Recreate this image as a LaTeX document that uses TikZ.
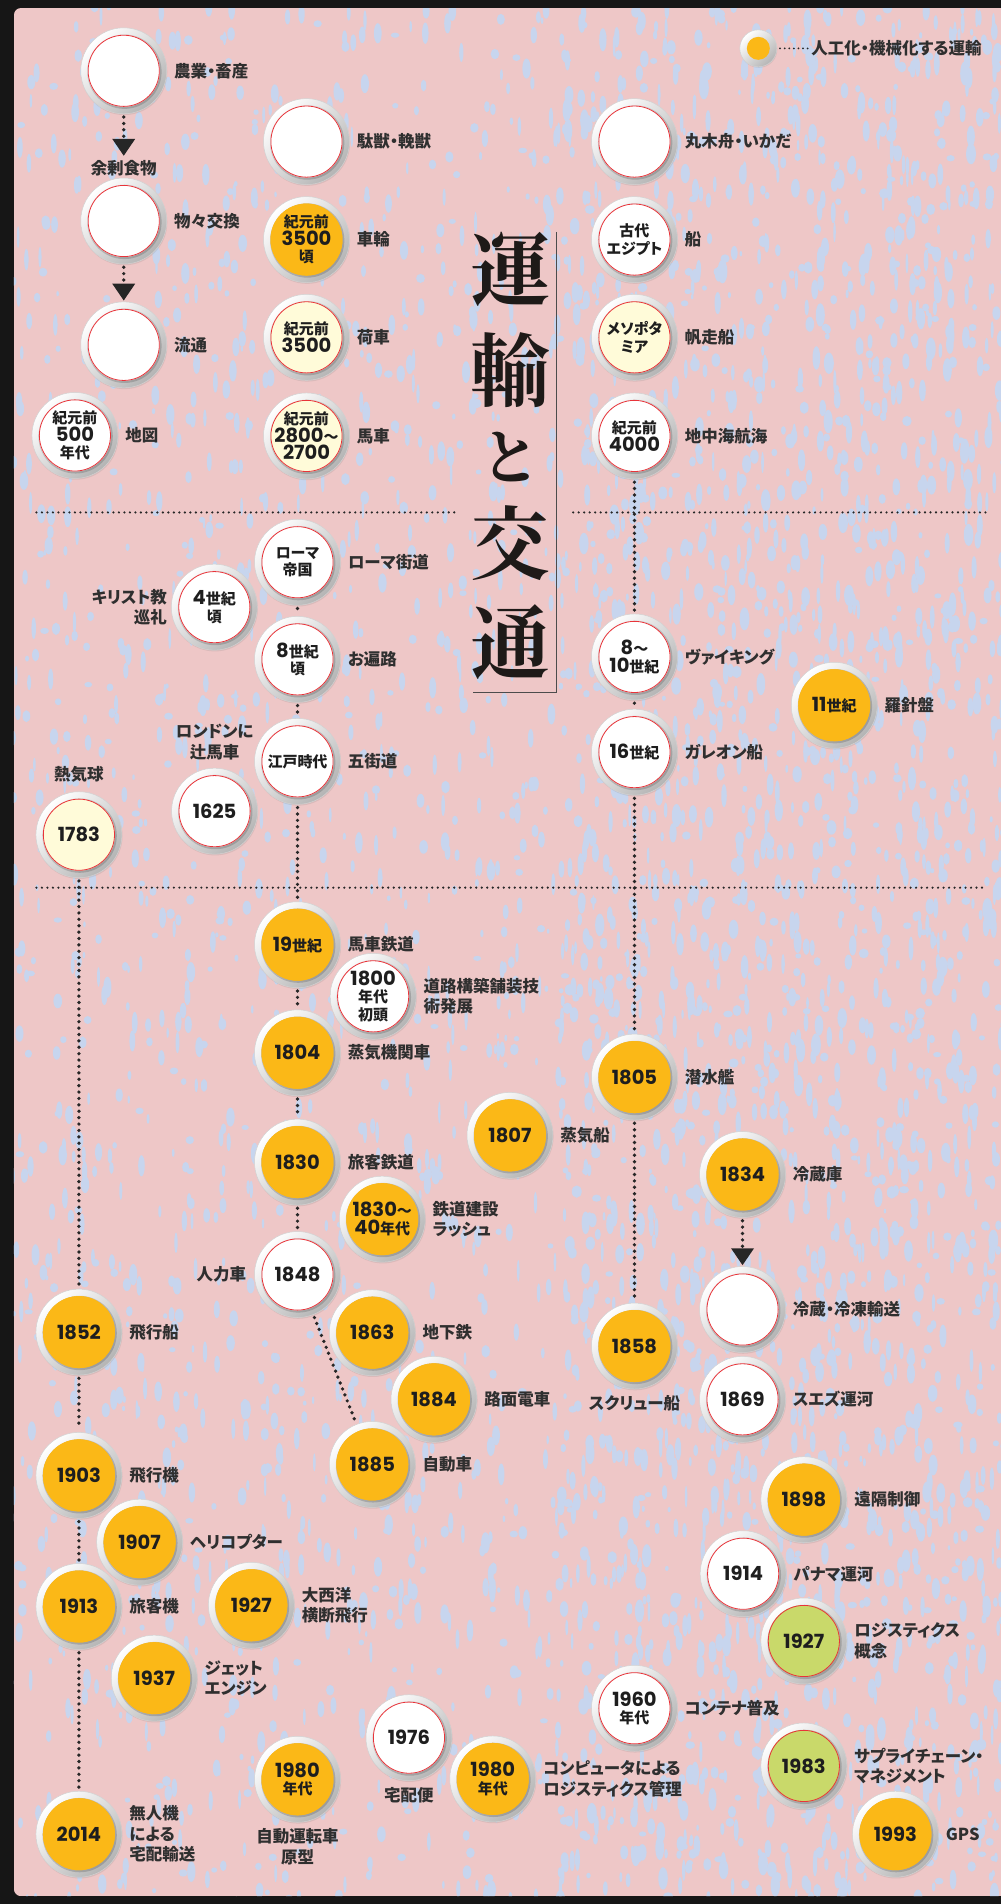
\documentclass[tikz,border=0pt]{standalone}
\usepackage{fontspec}
\usetikzlibrary{positioning,shadows,arrows.meta}
\newfontfamily\jp{Noto Sans CJK JP}[RawFeature=+palt]
\newfontfamily\jpt{Noto Serif CJK JP}
\newfontfamily\num{Poppins}
\definecolor{bgblack}{HTML}{161616}
\definecolor{bgpink}{HTML}{EEC7C7}
\definecolor{bgblue}{HTML}{C7D5EE}
\definecolor{yel}{HTML}{FBB817}
\definecolor{cream}{HTML}{FFFBD9}
\definecolor{grn}{HTML}{C9D96A}
\definecolor{redln}{HTML}{E8343A}
\definecolor{ringdk}{HTML}{B4B4B4}
\definecolor{ringln}{HTML}{D2D2D2}
\definecolor{labc}{HTML}{2F2F2F}
\definecolor{numc}{HTML}{1E1E1E}
\definecolor{dotc}{HTML}{262626}
\definecolor{ttlc}{HTML}{1E1A18}
\newcommand\myyr[1]{{\num\bfseries\fontsize{19.5}{17.5}\selectfont #1}}
\tikzset{
  ring/.style 2 args={circle, minimum size=86pt, inner sep=0pt, align=center, text=numc,
    font=\jp\bfseries\fontsize{15}{17.5}\selectfont,
    drop shadow={opacity=0.18, shadow xshift=0.6pt, shadow yshift=-1.3pt},
    top color=white, bottom color=ringdk, shading angle=45, draw=ringln, line width=0.5pt,
    path picture={
      \fill[black, opacity=0.16] ([xshift=0.7pt,yshift=-0.9pt]path picture bounding box.center) circle (37.2pt);
      \fill[#1] (path picture bounding box.center) circle (36pt);
      \draw[#2, line width=0.8pt] (path picture bounding box.center) circle (35.6pt);
    }},
  evw/.style={ring={white}{redln}},
  evy/.style={ring={yel}{yel}},
  evc/.style={ring={cream}{redln}},
  evg/.style={ring={grn}{redln}},
  legring/.style={circle, minimum size=37pt, inner sep=0pt,
    drop shadow={opacity=0.18, shadow xshift=0.5pt, shadow yshift=-1pt},
    top color=white, bottom color=ringdk, shading angle=45, draw=ringln, line width=0.5pt,
    path picture={\fill[yel] (path picture bounding box.center) circle (11.5pt);}},
  lab/.style={font=\jp\bfseries\fontsize{16.5}{20.5}\selectfont, text=labc, inner sep=0pt, align=left},
  ttl/.style={font=\jpt\bfseries\fontsize{80}{80}\selectfont, text=ttlc, inner sep=0pt},
  conn/.style={draw=dotc, line width=3.7pt, line cap=round, dash pattern=on 0pt off 6.4pt, shorten <=3pt, shorten >=3pt},
  arr/.style={conn, -{Triangle[width=22pt,length=17pt]}},
  sepl/.style={draw=dotc, line width=2.4pt, line cap=round, dash pattern=on 0pt off 5.5pt},
  legl/.style={draw=dotc, line width=2pt, line cap=round, dash pattern=on 0pt off 4.6pt, shorten <=3pt, shorten >=3pt},
  ttlline/.style={draw=black!70, line width=1pt}
}
\begin{document}
\begin{tikzpicture}[x=1.2148pt, y=-1.2148pt]
\useasboundingbox (0,0) rectangle (824,1568);
\fill[bgblack] (0,0) rectangle (824,1568);
% panel with texture
\begin{scope}
\clip[rounded corners=7pt] (11.5,6.6) rectangle (840,1561.5);
\fill[bgpink] (11.5,6.6) rectangle (840,1561.5);
\pgfmathsetseed{42}
\foreach \i in {1,...,3000}{
  \pgfmathsetmacro\bx{10+rnd*820}
  \pgfmathsetmacro\by{5+rnd*1560}
  \pgfmathsetmacro\rx{1.2+rnd*3.2}
  \pgfmathsetmacro\ry{2.5+rnd*8.5}
  \fill[bgblue] (\bx,\by) ellipse [x radius=\rx pt, y radius=\ry pt];
}
\foreach \i in {1,...,1500}{
  \pgfmathsetmacro\bx{460+rnd*370}
  \pgfmathsetmacro\by{5+rnd*1560}
  \pgfmathsetmacro\rx{1.5+rnd*3.5}
  \pgfmathsetmacro\ry{3+rnd*9}
  \fill[bgblue] (\bx,\by) ellipse [x radius=\rx pt, y radius=\ry pt];
}
\end{scope}

% separators
\coordinate (s1a) at (30,422); \coordinate (s1b) at (377,422);
\coordinate (s2a) at (472,422); \coordinate (s2b) at (813,422);
\coordinate (s3a) at (30,731); \coordinate (s3b) at (813,731);
\draw[sepl] (s1a) -- (s1b);
\draw[sepl] (s2a) -- (s2b);
\draw[sepl] (s3a) -- (s3b);

% title
\node[ttl] (t1) at (420,222) {運};
\node[ttl] (t2) at (420,305) {輸};
\node[ttl, font=\jpt\bfseries\fontsize{60}{60}\selectfont] (t3) at (420,376) {と};
\node[ttl] (t4) at (420,447) {交};
\node[ttl] (t5) at (420,529) {通};
\coordinate (tl1) at (458.5,191); \coordinate (tl2) at (458.5,570); \coordinate (tl3) at (389.5,570);
\draw[ttlline] (tl1) -- (tl2) -- (tl3);

% legend
\node[legring] (lg) at (624.5,39.8) {};
\node[lab, anchor=west] (lgt) at (668,40) {人工化・機械化する運輸};
\draw[legl] (lg) -- (lgt);

% ---- top section
\node[evw] (nA1) at (101.9,58.3) {};
\node[lab, right=7pt of nA1] {農業・畜産};
\node[lab, anchor=center] (yojo) at (101.9,138.3) {余剰食物};
\node[evw] (nA2) at (101.9,182) {};
\node[lab, right=7pt of nA2] {物々交換};
\node[evw] (nA3) at (101.9,284) {};
\node[lab, right=7pt of nA3] {流通};
\node[evw] (nA4) at (61.7,358.6) {紀元前\\\myyr{500}\\年代};
\node[lab, right=7pt of nA4] {地図};

\node[evw] (nB1) at (252.4,116.6) {};
\node[lab, right=7pt of nB1] {駄獣・輓獣};
\node[evy] (nB2) at (252.4,197.3) {紀元前\\\myyr{3500}\\頃};
\node[lab, right=7pt of nB2] {車輪};
\node[evc] (nB3) at (252.4,277.8) {紀元前\\\myyr{3500}};
\node[lab, right=7pt of nB3] {荷車};
\node[evc] (nB4) at (252.4,359) {紀元前\\\myyr{2800}〜\\\myyr{2700}};
\node[lab, right=7pt of nB4] {馬車};

\node[evw] (nC1) at (522.5,116.6) {};
\node[lab, right=7pt of nC1] {丸木舟・いかだ};
\node[evw] (nC2) at (522.5,197.3) {古代\\エジプト};
\node[lab, right=7pt of nC2] {船};
\node[evc] (nC3) at (522.5,277.8) {メソポタ\\ミア};
\node[lab, right=7pt of nC3] {帆走船};
\node[evw] (nC4) at (522.5,359) {紀元前\\\myyr{4000}};
\node[lab, right=7pt of nC4] {地中海航海};

\draw[arr, shorten >=4pt] (nA1) -- (yojo);
\draw[arr, shorten >=1pt] (nA2) -- (nA3);

% ---- middle section
\node[evw] (nB5) at (245,463) {ローマ\\帝国};
\node[lab, right=7pt of nB5] {ローマ街道};
\node[evw] (nB6) at (176.5,500) {\myyr{4}世紀\\頃};
\node[lab, left=4pt of nB6, align=right] {キリスト教\\巡礼};
\node[evw] (nB7) at (245,543) {\myyr{8}世紀\\頃};
\node[lab, right=7pt of nB7] {お遍路};
\node[evw] (nB8) at (245,627) {江戸時代};
\node[lab, right=7pt of nB8] {五街道};
\node[evw] (nB9) at (176.7,668) {\myyr{1625}};
\node[lab, above=8pt of nB9, align=center] {ロンドンに\\辻馬車};
\node[evc] (nL1) at (65,687.4) {\myyr{1783}};
\node[lab, above=9pt of nL1] {熱気球};

\node[evw] (nC5) at (522.5,541) {\myyr{8}〜\\\myyr{10}世紀};
\node[lab, right=7pt of nC5] {ヴァイキング};
\node[evw] (nC6) at (522.5,619.4) {\myyr{16}世紀};
\node[lab, right=7pt of nC6] {ガレオン船};
\node[evy] (nR1) at (687,580.8) {\myyr{11}世紀};
\node[lab, right=7pt of nR1] {羅針盤};

% ---- lower section
\node[evy] (nB10) at (245,778) {\myyr{19}世紀};
\node[lab, right=7pt of nB10] {馬車鉄道};
\node[evw] (nB11) at (307.3,820.5) {\myyr{1800}\\年代\\初頭};
\node[lab, right=7pt of nB11] {道路構築舗装技\\術発展};
\node[evy] (nB12) at (245,867) {\myyr{1804}};
\node[lab, right=7pt of nB12] {蒸気機関車};
\node[evy] (nB13) at (245,957) {\myyr{1830}};
\node[lab, right=7pt of nB13] {旅客鉄道};
\node[evy] (nB14) at (314.8,1004) {\myyr{1830}〜\\\myyr{40}年代};
\node[lab, right=7pt of nB14] {鉄道建設\\ラッシュ};
\node[evw] (nB15) at (245,1049.6) {\myyr{1848}};
\node[lab, left=8pt of nB15] {人力車};
\node[evy] (nB16) at (306.6,1097.5) {\myyr{1863}};
\node[lab, right=7pt of nB16] {地下鉄};
\node[evy] (nB17) at (357.4,1152.4) {\myyr{1884}};
\node[lab, right=7pt of nB17] {路面電車};
\node[evy] (nB18) at (306.6,1206) {\myyr{1885}};
\node[lab, right=7pt of nB18] {自動車};

\node[evy] (nC7) at (522.5,887) {\myyr{1805}};
\node[lab, right=7pt of nC7] {潜水艦};
\node[evy] (nC8) at (420,935) {\myyr{1807}};
\node[lab, right=7pt of nC8] {蒸気船};
\node[evy] (nC9) at (522.5,1108.5) {\myyr{1858}};
\node[lab, below=6pt of nC9] {スクリュー船};

\node[evy] (nR2) at (611.5,967.2) {\myyr{1834}};
\node[lab, right=7pt of nR2] {冷蔵庫};
\node[evw] (nR3) at (611.5,1078.4) {};
\node[lab, right=7pt of nR3] {冷蔵・冷凍輸送};
\node[evw] (nR4) at (611.5,1152.4) {\myyr{1869}};
\node[lab, right=7pt of nR4] {スエズ運河};
\node[evy] (nR5) at (662,1235) {\myyr{1898}};
\node[lab, right=7pt of nR5] {遠隔制御};
\node[evw] (nR6) at (612,1296) {\myyr{1914}};
\node[lab, right=7pt of nR6] {パナマ運河};
\node[evg] (nR7) at (662,1351.4) {\myyr{1927}};
\node[lab, right=7pt of nR7] {ロジスティクス\\概念};
\node[evw] (nC10) at (522.5,1406.8) {\myyr{1960}\\年代};
\node[lab, right=7pt of nC10] {コンテナ普及};
\node[evg] (nR8) at (662,1454.3) {\myyr{1983}};
\node[lab, right=7pt of nR8] {サプライチェーン・\\マネジメント};
\node[evy] (nR9) at (737.4,1510.5) {\myyr{1993}};
\node[lab, right=7pt of nR9] {GPS};

\node[evy] (nM1) at (405.8,1465) {\myyr{1980}\\年代};
\node[lab, right=7pt of nM1] {コンピュータによる\\ロジスティクス管理};
\node[evw] (nM2) at (336.8,1431) {\myyr{1976}};
\node[lab, below=6pt of nM2] {宅配便};
\node[evy] (nM3) at (245,1465.3) {\myyr{1980}\\年代};
\node[lab, below=6pt of nM3, align=center] {自動運転車\\原型};

\node[evy] (nL2) at (65,1097) {\myyr{1852}};
\node[lab, right=7pt of nL2] {飛行船};
\node[evy] (nL3) at (65,1215) {\myyr{1903}};
\node[lab, right=7pt of nL3] {飛行機};
\node[evy] (nL4) at (115,1270) {\myyr{1907}};
\node[lab, right=7pt of nL4] {ヘリコプター};
\node[evy] (nL5) at (65,1323) {\myyr{1913}};
\node[lab, right=7pt of nL5] {旅客機};
\node[evy] (nL6) at (207,1322) {\myyr{1927}};
\node[lab, right=7pt of nL6] {大西洋\\横断飛行};
\node[evy] (nL7) at (127,1382) {\myyr{1937}};
\node[lab, right=7pt of nL7] {ジェット\\エンジン};
\node[evy] (nL8) at (65,1510.5) {\myyr{2014}};
\node[lab, right=7pt of nL8] {無人機\\による\\宅配輸送};

% ---- connectors
\draw[conn] (nC4) -- (nC5);
\draw[conn] (nC5) -- (nC6);
\draw[conn] (nC6) -- (nC7);
\draw[conn] (nC7) -- (nC9);
\draw[conn] (nB5) -- (nB7);
\draw[conn] (nB7) -- (nB8);
\draw[conn] (nB8) -- (nB10);
\draw[conn] (nB10) -- (nB12);
\draw[conn] (nB12) -- (nB13);
\draw[conn] (nB13) -- (nB15);
\draw[conn] (nB15) -- (nB18);
\draw[conn] (nL1) -- (nL2);
\draw[conn] (nL2) -- (nL3);
\draw[conn] (nL3) -- (nL5);
\draw[conn] (nL5) -- (nL8);
\draw[arr, shorten >=1pt] (nR2) -- (nR3);
\end{tikzpicture}
\end{document}
